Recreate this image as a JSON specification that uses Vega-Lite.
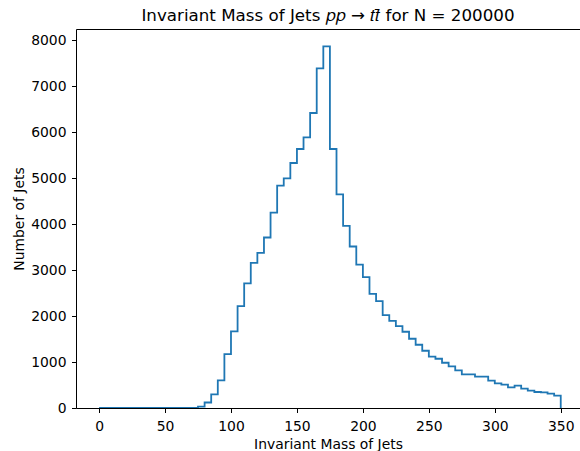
{
  "$schema": "https://vega.github.io/schema/vega-lite/v6.json",
  "width": 504,
  "height": 379,
  "autosize": "none",
  "padding": {"left": 76, "top": 29, "right": 0, "bottom": 43},
  "background": "white",
  "config": {
    "font": "DejaVu Sans",
    "view": {"stroke": null},
    "axis": {
      "domainColor": "#000000",
      "domainWidth": 1,
      "tickColor": "#000000",
      "tickWidth": 1,
      "tickSize": 4.5,
      "labelFont": "DejaVu Sans",
      "labelFontSize": 13.9,
      "labelColor": "#000000",
      "titleFont": "DejaVu Sans",
      "titleFontSize": 13.9,
      "titleFontWeight": "normal",
      "titleColor": "#000000",
      "grid": false
    }
  },
  "title": {
    "text": "Invariant Mass of Jets 𝑝𝑝 → 𝑡𝑡̄ for N = 200000",
    "font": "DejaVu Sans",
    "fontSize": 16.7,
    "fontWeight": "normal",
    "color": "#000000",
    "anchor": "middle",
    "frame": "group",
    "baseline": "alphabetic",
    "offset": 9,
    "dy": 18
  },
  "data": {
    "values": [
      {"edge": 0, "count": 0}, {"edge": 5, "count": 0}, {"edge": 10, "count": 0}, {"edge": 15, "count": 0},
      {"edge": 20, "count": 0}, {"edge": 25, "count": 0}, {"edge": 30, "count": 0}, {"edge": 35, "count": 0},
      {"edge": 40, "count": 0}, {"edge": 45, "count": 0}, {"edge": 50, "count": 0}, {"edge": 55, "count": 0},
      {"edge": 60, "count": 0}, {"edge": 65, "count": 0}, {"edge": 70, "count": 2}, {"edge": 75, "count": 30},
      {"edge": 80, "count": 120}, {"edge": 85, "count": 298}, {"edge": 90, "count": 602}, {"edge": 95, "count": 1174},
      {"edge": 100, "count": 1667}, {"edge": 105, "count": 2217}, {"edge": 110, "count": 2710}, {"edge": 115, "count": 3159},
      {"edge": 120, "count": 3376}, {"edge": 125, "count": 3711}, {"edge": 130, "count": 4250}, {"edge": 135, "count": 4838},
      {"edge": 140, "count": 4997}, {"edge": 145, "count": 5332}, {"edge": 150, "count": 5636}, {"edge": 155, "count": 5889},
      {"edge": 160, "count": 6420}, {"edge": 165, "count": 7390}, {"edge": 170, "count": 7870}, {"edge": 175, "count": 5636},
      {"edge": 180, "count": 4649}, {"edge": 185, "count": 3965}, {"edge": 190, "count": 3515}, {"edge": 195, "count": 3120},
      {"edge": 200, "count": 2848}, {"edge": 205, "count": 2485}, {"edge": 210, "count": 2326}, {"edge": 215, "count": 2022},
      {"edge": 220, "count": 1898}, {"edge": 225, "count": 1783}, {"edge": 230, "count": 1659}, {"edge": 235, "count": 1507},
      {"edge": 240, "count": 1377}, {"edge": 245, "count": 1246}, {"edge": 250, "count": 1116}, {"edge": 255, "count": 1072},
      {"edge": 260, "count": 985}, {"edge": 265, "count": 906}, {"edge": 270, "count": 819}, {"edge": 275, "count": 732},
      {"edge": 280, "count": 732}, {"edge": 285, "count": 681}, {"edge": 290, "count": 681}, {"edge": 295, "count": 594},
      {"edge": 300, "count": 536}, {"edge": 305, "count": 507}, {"edge": 310, "count": 449}, {"edge": 315, "count": 485},
      {"edge": 320, "count": 420}, {"edge": 325, "count": 377}, {"edge": 330, "count": 348}, {"edge": 335, "count": 340},
      {"edge": 340, "count": 311}, {"edge": 345, "count": 268}, {"edge": 350, "count": 0}
    ]
  },
  "layer": [
    {
      "mark": {"type": "line", "interpolate": "step-after", "color": "#1f77b4", "strokeWidth": 1.8, "strokeJoin": "miter", "strokeCap": "butt", "clip": true},
      "encoding": {
        "x": {
          "field": "edge", "type": "quantitative",
          "scale": {"domain": [-17.5, 364.6], "nice": false, "zero": false},
          "axis": {"orient": "bottom", "values": [0, 50, 100, 150, 200, 250, 300, 350], "labelPadding": 6.5, "title": "Invariant Mass of Jets", "titlePadding": 4.4}
        },
        "y": {
          "field": "count", "type": "quantitative",
          "scale": {"domain": [0, 8248], "nice": false, "zero": true},
          "axis": {"orient": "left", "format": "d", "values": [0, 1000, 2000, 3000, 4000, 5000, 6000, 7000, 8000], "labelPadding": 5.5, "title": "Number of Jets", "titlePadding": 4}
        }
      }
    },
    {
      "mark": {"type": "line", "opacity": 0},
      "encoding": {
        "x": {
          "field": "edge", "type": "quantitative",
          "axis": {"orient": "top", "labels": false, "ticks": false, "title": null, "minExtent": 0, "maxExtent": 0}
        },
        "y": {"field": "count", "type": "quantitative", "axis": null}
      }
    }
  ],
  "resolve": {"axis": {"x": "independent", "y": "independent"}}
}
